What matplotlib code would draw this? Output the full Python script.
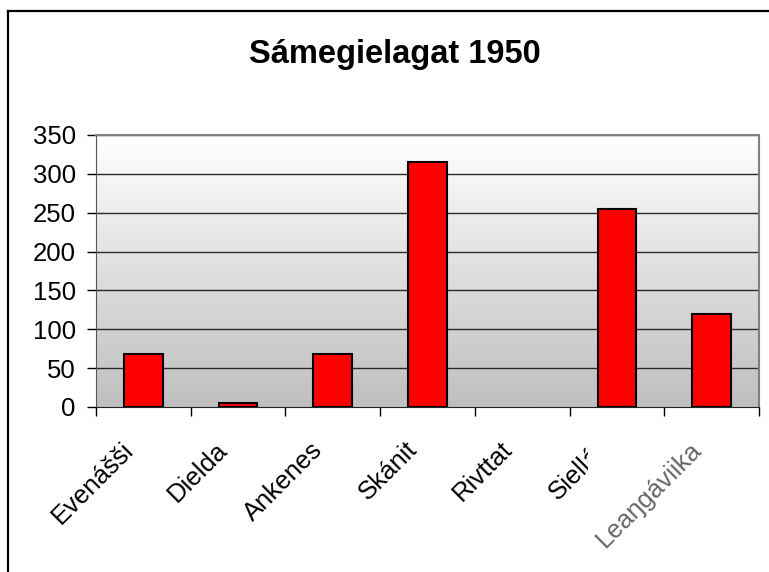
import matplotlib
matplotlib.use("Agg")
import matplotlib.pyplot as plt
import numpy as np
from matplotlib.lines import Line2D
import matplotlib.transforms as mtransforms
from matplotlib.colors import LinearSegmentedColormap

categories = ["Evenášši", "Dielda", "Ankenes", "Skánit", "Rivttat", "Siellát", "Leaŋgáviika"]
values = [68, 5, 68, 315, 0, 255, 120]
yticks = [0, 50, 100, 150, 200, 250, 300, 350]
title = "Sámegielagat 1950"

plt.rcParams['font.family'] = ['Liberation Sans', 'DejaVu Sans']

W, H = 769, 572
fig = plt.figure(figsize=(W / 100, H / 100), dpi=100)
fig.patch.set_facecolor("white")

# outer chart border
fig.add_artist(Line2D([8 / W, 8 / W], [0, 1 - 11 / H], transform=fig.transFigure, color="black", lw=1.6))
fig.add_artist(Line2D([8 / W, 1], [1 - 11 / H, 1 - 11 / H], transform=fig.transFigure, color="black", lw=1.6))

left, right, top, bottom = 96, 759, 135, 407
ax = fig.add_axes([left / W, 1 - bottom / H, (right - left) / W, (bottom - top) / H])

# gradient background
grad = np.linspace(0, 1, 256).reshape(-1, 1)
cmap = LinearSegmentedColormap.from_list("g", ["#ffffff", "#bfbfbf"])
ax.imshow(grad, aspect="auto", cmap=cmap, extent=[0, 1, 0, 1], transform=ax.transAxes, zorder=0)

x = np.arange(len(categories))
edges = ["black" if v > 0 else "none" for v in values]
ax.bar(x, values, width=0.41, color="#ff0000", edgecolor=edges, linewidth=1.5, zorder=3)

ax.set_xlim(-0.5, len(categories) - 0.5)
ax.set_ylim(0, 350)
ax.set_yticks(yticks)
ax.set_yticklabels([str(v) for v in yticks], fontsize=18.5)
for v in yticks[1:]:
    ax.axhline(v, color="#2a2a2a", lw=1.0, zorder=1)

ax.set_xticks(x)
ax.set_xticklabels(categories, fontsize=18.5, rotation=45, ha="right", va="center", rotation_mode="anchor")
ax.tick_params(axis="x", which="major", length=0, pad=28)
ax.set_xticks(np.arange(-0.5, len(categories)), minor=True)
ax.tick_params(axis="x", which="minor", length=6.5, width=1, color="black")
ax.tick_params(axis="y", length=6.5, width=1, color="black", pad=8)

for s in ["top", "right"]:
    ax.spines[s].set_color("#808080")
    ax.spines[s].set_linewidth(1.5)
ax.spines["left"].set_color("#555555")
ax.spines["bottom"].set_color("#222222")

shift = mtransforms.ScaledTranslation(-14 / 100, 0, fig.dpi_scale_trans)
labels = ax.get_xticklabels()
for lb in labels:
    lb.set_transform(lb.get_transform() + shift)
# 6th label is cut off in the reference
labels[5].set_clip_box(mtransforms.Bbox.from_extents(0, 0, 588, H))
labels[5].set_clip_on(True)
# last label appears faded in the reference
labels[-1].set_color("#666666")

fig.text(395 / W, 1 - 55 / H, title, ha="center", va="center", fontsize=23.5, fontweight="bold")

fig.savefig("out.png", dpi=100)
